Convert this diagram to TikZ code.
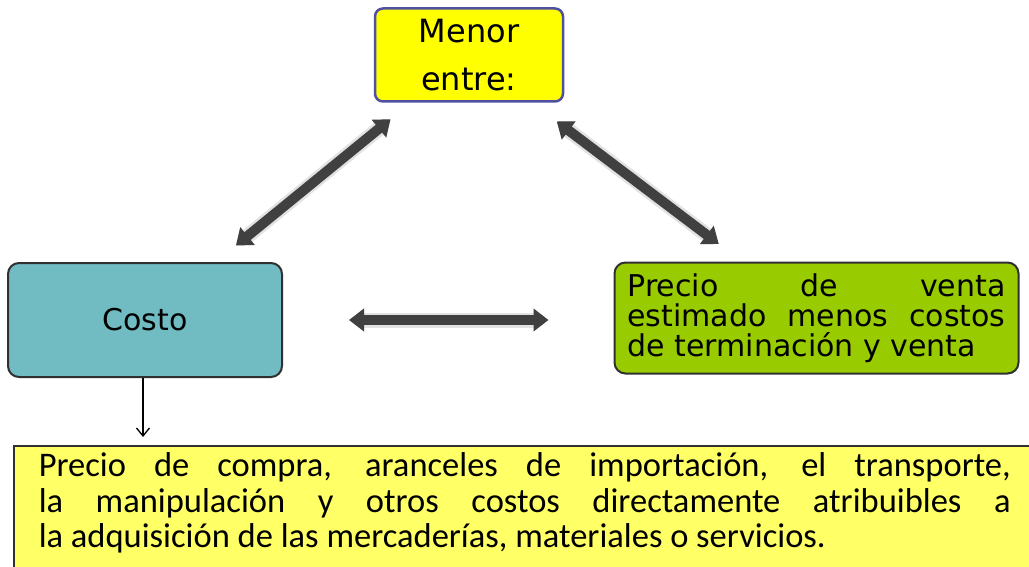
\documentclass[tikz,border=0pt]{standalone}
\usepackage{fontspec}
\setmainfont{DejaVu Sans}
\newfontfamily\calibrifont{Carlito}
\usetikzlibrary{arrows.meta}

\definecolor{menoryellow}{HTML}{FFFF00}
\definecolor{menorline}{HTML}{5050A0}
\definecolor{costoteal}{HTML}{70BCC2}
\definecolor{ventagreen}{HTML}{99CC00}
\definecolor{descyellow}{HTML}{FFFF66}
\definecolor{boxline}{HTML}{303030}
\definecolor{arrowgray}{HTML}{404040}
\definecolor{glowgray}{HTML}{E2E2E2}

\begin{document}
\begin{tikzpicture}[x=1pt,y=-1pt,
  box/.style={draw=boxline,line width=2pt,rounded corners=11pt,inner sep=0pt},
  bigarrow/.style={draw=arrowgray,line width=10pt,
    {Triangle[length=15pt,width=22pt]}-{Triangle[length=15pt,width=22pt]},
    preaction={draw=glowgray,line width=15pt}},
  thinarrow/.style={draw=black,line width=1.3pt,-{Straight Barb[length=8pt,width=13pt]}}]

% Page size of the reference
\useasboundingbox (0,0) rectangle (1029,567);

% Boxes
\node[box,fill=menoryellow,draw=menorline,line width=2.5pt,rounded corners=8pt,
  minimum width=188pt,minimum height=93pt,align=center,
  font=\fontsize{32}{48}\selectfont] (menor) at (469,55) {Menor\\entre:};

\node[box,fill=costoteal,minimum width=274pt,minimum height=114pt,
  font=\fontsize{30}{34}\selectfont] (costo) at (145,320) {Costo};

\node[box,fill=ventagreen,text width=378pt,inner xsep=13pt,minimum height=111pt,
  align=justify,font=\fontsize{30}{30}\selectfont] (venta) at (816.5,318)
  {Precio de venta\linebreak estimado menos costos\linebreak de terminación y venta};

\node[draw=boxline,line width=1.5pt,fill=descyellow,anchor=north west,
  text width=972pt,inner xsep=25pt,inner ysep=7pt,text depth=110pt,align=justify,
  font=\calibrifont\fontsize{34.5}{35.5}\selectfont] (desc) at (13,445)
  {Precio de compra, aranceles de importación, el transporte,\linebreak
   la manipulación y otros costos directamente atribuibles a\linebreak
   la adquisición de las mercaderías, materiales o servicios.};

% Thick double arrows between the boxes
\draw[bigarrow,shorten <=26pt,shorten >=26pt] (costo) -- (menor);
\draw[bigarrow,shorten <=31pt,shorten >=29pt] (menor) -- (venta);
\draw[bigarrow,shorten <=66pt,shorten >=65pt] (costo.east) -- (venta.west |- costo.east);

% Costo -> description
\draw[thinarrow,shorten >=8pt] ([xshift=-2pt]costo.south) -- ([xshift=-2pt]costo.south |- desc.north);

\end{tikzpicture}
\end{document}
